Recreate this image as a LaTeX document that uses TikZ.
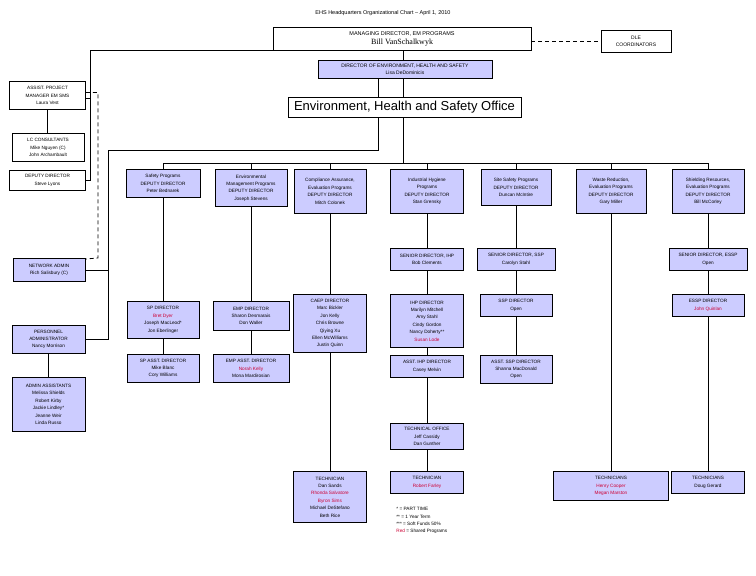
\documentclass[tikz,border=0pt]{standalone}
\usepackage{fontspec}
\setmainfont{Liberation Sans}
\newfontfamily\namefont{Liberation Serif}
\usepackage{tikz}
\usetikzlibrary{positioning,calc}
\definecolor{boxfill}{RGB}{204,204,255}
\definecolor{sharedred}{RGB}{204,0,51}
\newcommand{\boxfont}{\fontsize{4.7}{7.4}\selectfont}
\newcommand{\shared}[1]{\textcolor{sharedred}{#1}}
\tikzstyle{block} = [draw, fill=boxfill, rectangle, align=center,
    inner sep=1pt, anchor=north, font=\boxfont]
\tikzstyle{wblock} = [block, fill=white]
\tikzstyle{hub} = [coordinate]

\begin{document}
\begin{tikzpicture}[x=1pt, y=-1pt, line width=0.8pt]
      \useasboundingbox (0,0) rectangle (756,576);

      % top of the chart
      \node [font=\fontsize{5.5}{6}\selectfont] (title) at (383,13) {EHS Headquarters Organizational Chart – April 1, 2010};
      \node [wblock, minimum width=258pt, minimum height=23pt, font=\fontsize{5.5}{8.5}\selectfont] (mgr) at (402,27)
            {MANAGING DIRECTOR, EM PROGRAMS\\{\namefont\fontsize{8}{9}\selectfont Bill VanSchalkwyk}};
      \node [wblock, minimum width=70pt, minimum height=22pt, font=\fontsize{5}{7.5}\selectfont] (dle) at (636,30) {DLE\\COORDINATORS};
      \node [block, minimum width=174pt, minimum height=18pt, font=\fontsize{5}{6.5}\selectfont] (dir) at (405,60)
            {DIRECTOR OF ENVIRONMENT, HEALTH AND SAFETY\\Lisa DeDominicis};
      \node [wblock, minimum width=233pt, minimum height=20pt, font=\fontsize{13}{15}\selectfont] (ehs) at (404.5,97)
            {Environment, Health and Safety Office};

      % left column
      \node [wblock, minimum width=76pt, minimum height=28pt] (apm) at (47.5,81) {ASSIST. PROJECT\\MANAGER EM SMS\\Laura Vest};
      \node [wblock, minimum width=72pt, minimum height=28pt] (lcc) at (48,133) {LC CONSULTANTS\\Mike Nguyen (C)\\John Archambault};
      \node [wblock, minimum width=76pt, minimum height=20pt] (ddep) at (47.5,170) {DEPUTY DIRECTOR\\Steve Lyons};
      \node [block, minimum width=72pt, minimum height=23pt] (netw) at (49,258) {NETWORK ADMIN\\Rich Salisbury (C)};
      \node [block, minimum width=73pt, minimum height=28pt] (pers) at (48.5,325) {PERSONNEL\\ADMINISTRATOR\\Nancy Morrison};
      \node [block, minimum width=73pt, minimum height=54pt] (aa) at (48.5,377)
            {ADMIN ASSISTANTS\\Melissa Shields\\Robert Kirby\\Jackie Lindley*\\Jeanne Weir\\Linda Russo};

      % deputy directors
      \node [block, minimum width=74pt, minimum height=28pt] (sdd) at (163,169) {Safety Programs\\DEPUTY DIRECTOR\\Peter Bednarek};
      \node [block, minimum width=72pt, minimum height=37pt] (emdd) at (251,169)
            {Environmental\\Management Programs\\DEPUTY DIRECTOR\\Joseph Stevens};
      \node [block, minimum width=72pt, minimum height=44pt] (cadd) at (330,169)
            {Compliance Assurance,\\Evaluation Programs\\DEPUTY DIRECTOR\\Mitch Colonek};
      \node [block, minimum width=73pt, minimum height=44pt] (ihdd) at (427,169)
            {Industrial Hygiene\\Programs\\DEPUTY DIRECTOR\\Stan Grensky};
      \node [block, minimum width=70pt, minimum height=36pt] (ssdd) at (516,169) {Site Safety Programs\\DEPUTY DIRECTOR\\Duncan McIntire};
      \node [block, minimum width=70pt, minimum height=44pt] (wsdd) at (611,169)
            {Waste Reduction,\\Evaluation Programs\\DEPUTY DIRECTOR\\Gary Miller};
      \node [block, minimum width=72pt, minimum height=44pt] (esdd) at (708,169)
            {Shielding Resources,\\Evaluation Programs\\DEPUTY DIRECTOR\\Bill McCorley};

      % senior directors
      \node [block, minimum width=73pt, minimum height=22pt] (ihsd) at (427,248) {SENIOR DIRECTOR, IHP\\Bob Clements};
      \node [block, minimum width=78pt, minimum height=22pt] (sssd) at (516,248) {SENIOR DIRECTOR, SSP\\Carolyn Stahl};
      \node [block, minimum width=78pt, minimum height=22pt] (essd) at (708,248) {SENIOR DIRECTOR, ESSP\\Open};

      % program directors
      \node [block, minimum width=72pt, minimum height=37pt] (spd) at (163,301)
            {SP DIRECTOR\\\shared{Bret Dyer}\\Joseph MacLeod*\\Jon Eberlinger};
      \node [block, minimum width=76pt, minimum height=29pt] (empd) at (251,301) {EMP DIRECTOR\\Sharon Desmarais\\Don Waller};
      \node [block, minimum width=73pt, minimum height=58pt] (caepd) at (330,294)
            {CAEP DIRECTOR\\Marc Bickler\\Jon Kelly\\Chris Browne\\Qiying Xu\\Ellen McWilliams\\Justin Quinn};
      \node [block, minimum width=73pt, minimum height=53pt] (ihpd) at (427,294)
            {IHP DIRECTOR\\Marilyn Mitchell\\Amy Stahl\\Cindy Gordon\\Nancy Doherty**\\\shared{Susan Lode}};
      \node [block, minimum width=72pt, minimum height=22pt] (sspd) at (516,294) {SSP DIRECTOR\\Open};
      \node [block, minimum width=72pt, minimum height=22pt] (esspd) at (708,294) {ESSP DIRECTOR\\\shared{John Quinlan}};

      % assistant directors
      \node [block, minimum width=72pt, minimum height=28pt] (spa) at (163,354) {SP ASST. DIRECTOR\\Mike Blanc\\Cory Williams};
      \node [block, minimum width=76pt, minimum height=28pt] (empa) at (251,354)
            {EMP ASST. DIRECTOR\\\shared{Norah Kelly}\\Mona Mardirosian};
      \node [block, minimum width=73pt, minimum height=22pt] (ihpa) at (427,355) {ASST. IHP DIRECTOR\\Casey Melvin};
      \node [block, minimum width=72pt, minimum height=28pt] (sspa) at (516,355) {ASST. SSP DIRECTOR\\Shanna MacDonald\\Open};
      \node [block, minimum width=73pt, minimum height=26pt] (tof) at (427,423) {TECHNICAL OFFICE\\Jeff Cassidy\\Dan Gunther};

      % technicians
      \node [block, minimum width=73pt, minimum height=51pt] (tca) at (330,471)
            {TECHNICIAN\\Dan Sands\\\shared{Rhonda Salvatore}\\\shared{Byron Sims}\\Michael DeStefano\\Beth Rice};
      \node [block, minimum width=73pt, minimum height=22pt] (tih) at (427,471) {TECHNICIAN\\\shared{Robert Farley}};
      \node [block, minimum width=115pt, minimum height=29pt] (tws) at (611,471)
            {TECHNICIANS\\\shared{Henry Cooper}\\\shared{Megan Marston}};
      \node [block, minimum width=73pt, minimum height=22pt] (tes) at (708,471) {TECHNICIANS\\Doug Gerard};

      \node [anchor=north west, align=left, inner sep=0pt, font=\boxfont] (legend) at (396,507)
            {* = PART TIME\\** = 1 Year Term\\*** = Soft Funds 50\%\\\shared{Red} = Shared Programs};

      % connection points
      \node [hub] (mainx) at (403,0) {};
      \node [hub] (bus) at (403,163) {};
      \node [hub] (admx) at (378,150) {};
      \node [hub] (admleft) at (108,150) {};
      \node [hub] (pmx) at (90,0) {};
      \node [hub] (dashx) at (98,0) {};

      \draw (mgr.south -| mainx) -- (dir.north -| mainx);
      \draw (dir.south -| mainx) -- (ehs.north -| mainx);
      \draw (ehs.south -| mainx) -- (bus);
      \draw (dir.south -| admx) -- (ehs.north -| admx);
      \draw (ehs.south -| admx) -- (admx) -- (admleft) -- (admleft |- pers.east) -- (pers.east);
      \draw (netw.east) -- (netw.east -| admleft);
      \draw [dashed, dash pattern=on 4pt off 3pt] (dle.west -| mgr.east) -- (dle.west);

      % left column lines
      \draw (mgr.south west) -- (mgr.south west -| pmx) -- (pmx |- ddep.east) -- (ddep.east);
      \draw ([yshift=-3pt]apm.east) -- ([yshift=-3pt]apm.east -| pmx);
      \draw [dashed, dash pattern=on 4pt off 3pt] ([yshift=3pt]apm.east) -- ([yshift=3pt]apm.east -| dashx)
            -- (dashx |- netw.north) -- ([yshift=-1pt]netw.north east);
      \draw (apm.south) -- (apm.south |- lcc.north);
      \draw (pers.south) -- (aa.north);

      % deputy bus
      \draw (sdd.north |- bus) -- (esdd.north |- bus);
      \draw (sdd.north |- bus) -- (sdd.north);
      \draw (emdd.north |- bus) -- (emdd.north);
      \draw (cadd.north |- bus) -- (cadd.north);
      \draw (ihdd.north |- bus) -- (ihdd.north);
      \draw (ssdd.north |- bus) -- (ssdd.north);
      \draw (wsdd.north |- bus) -- (wsdd.north);
      \draw (esdd.north |- bus) -- (esdd.north);

      % program columns
      \draw (sdd.south) -- (spd.north);
      \draw (spd.south) -- (spa.north);
      \draw (emdd.south) -- (empd.north);
      \draw (empd.south) -- (empa.north);
      \draw (cadd.south) -- (caepd.north);
      \draw (caepd.south) -- (tca.north);
      \draw (ihdd.south) -- (ihsd.north);
      \draw (ihsd.south) -- (ihpd.north);
      \draw (ihpd.south) -- (ihpa.north);
      \draw (ihpa.south) -- (tof.north);
      \draw (tof.south) -- (tih.north);
      \draw (ssdd.south) -- (sssd.north);
      \draw (sssd.south) -- (sspd.north);
      \draw (sspd.south) -- (sspa.north);
      \draw (wsdd.south) -- (tws.north);
      \draw (esdd.south) -- (essd.north);
      \draw (essd.south) -- (esspd.north);
      \draw (esspd.south) -- (tes.north);
    \end{tikzpicture}
\end{document}
